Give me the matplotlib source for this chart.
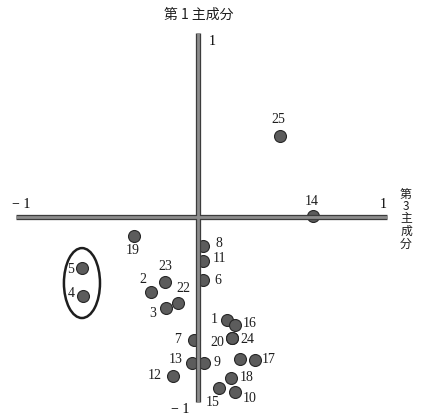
import matplotlib
matplotlib.use("Agg")
import matplotlib.pyplot as plt
from matplotlib.patches import Ellipse

# principal component scores (3rd component on x, 1st on y)
labels = ["1", "2", "3", "4", "5", "6", "7", "8", "9", "10", "11", "12", "13",
          "14", "15", "16", "17", "18", "19", "20", "", "22", "23", "24", "25"]
pc3 = [0.157, -0.254, -0.173, -0.622, -0.627, 0.027, -0.022, 0.027, 0.032,
       0.200, 0.027, -0.135, -0.032, 0.622, 0.114, 0.200, 0.308, 0.178,
       -0.346, 0.184, 0.227, -0.108, -0.178, 0.184, 0.443]
pc1 = [-0.557, -0.405, -0.492, -0.427, -0.276, -0.341, -0.665, -0.157, -0.789,
       -0.946, -0.238, -0.859, -0.789, 0.005, -0.924, -0.584, -0.773, -0.870,
       -0.103, -0.654, -0.768, -0.465, -0.351, -0.654, 0.438]

# label offsets in pixels (dx, dy downwards)
label_offsets = [(-13, -1), (-8, -12), (-13, 5), (-12, -3), (-11, 1), (15, 0),
                 (-16, -1), (16, -3), (13, 0), (15, 6), (17, -3), (-18, 0),
                 (-16, -3), (-1, -15), (-6, 15), (15, -2), (14, -1), (16, 0),
                 (-1, 14), (-15, 4), (0, 0), (5, -15), (0, -15), (15, 1),
                 (-2, -16)]

num_font = "Liberation Serif"
cjk_font = ["Noto Sans CJK JP", "DejaVu Sans"]

fig = plt.figure(figsize=(4.27, 4.17), dpi=100)
ax = fig.add_axes([0, 0, 1, 1])
ax.set_xlim(-1.070, 1.238)
ax.set_ylim(-1.081, 1.173)
ax.axis("off")

# thick grey axes lines
for lw, col in [(3.8, "#3c3c3c"), (2.0, "#8c8c8c")]:
    ax.plot([-0.985, 1.02], [0, 0], color=col, lw=lw, solid_capstyle="butt", zorder=3)
    ax.plot([0, 0], [-1.0, 0.995], color=col, lw=lw, solid_capstyle="butt", zorder=3)

ax.plot(pc3, pc1, "o", markersize=8.6, markerfacecolor="#5c5c5c",
        markeredgecolor="#262626", markeredgewidth=0.8, linestyle="none", zorder=2)

for lab, x, y, (dx, dy) in zip(labels, pc3, pc1, label_offsets):
    if lab:
        ax.annotate(lab, (x, y), xytext=(dx, -dy), textcoords="offset pixels",
                    ha="center", va="center", fontsize=10, family=num_font,
                    color="#1e1e1e", zorder=5)

# cluster of 4 and 5
ax.add_patch(Ellipse((-0.627, -0.357), 0.195, 0.378, fill=False,
                     edgecolor="#1e1e1e", lw=1.8, zorder=4))

# axis end labels
ax.text(0.076, 0.946, "1", ha="center", va="center", fontsize=10, family=num_font)
ax.text(-0.097, -1.043, "− 1", ha="center", va="center", fontsize=10, family=num_font)
ax.text(-0.957, 0.065, "− 1", ha="center", va="center", fontsize=10, family=num_font)
ax.text(1.0, 0.065, "1", ha="center", va="center", fontsize=10, family=num_font)

# axis titles
ax.text(0.005, 1.092, "第 1 主成分", ha="center", va="center", fontsize=10,
        family=cjk_font, color="#1e1e1e")
ax.text(1.124, -0.011, "\n".join("第3主成分"), ha="center", va="center",
        fontsize=8.5, family=cjk_font, linespacing=0.95, color="#1e1e1e")

fig.savefig("out.png", dpi=100)
